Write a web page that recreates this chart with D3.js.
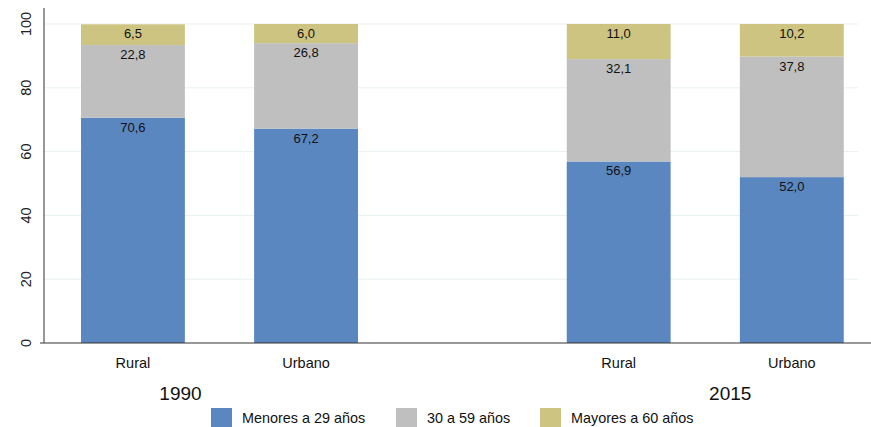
<!DOCTYPE html>
<html>
<head>
<meta charset="utf-8">
<script src="https://cdn.jsdelivr.net/npm/d3@7"></script>
<style>
  body { margin: 0; background: #fff; }
  svg { font-family: "Liberation Sans", Arial, sans-serif; }
</style>
</head>
<body>
<div id="chart"></div>
<script>
// data
var years = ["1990", "2015"];
var areas = ["Rural", "Urbano"];
var groups = ["Menores a 29 años", "30 a 59 años", "Mayores a 60 años"];
var young = [70.6, 67.2, 56.9, 52.0];   // 1990 Rural, 1990 Urbano, 2015 Rural, 2015 Urbano
var middle = [22.8, 26.8, 32.1, 37.8];
var old = [6.5, 6.0, 11.0, 10.2];
var yTicks = [0, 20, 40, 60, 80, 100];

var colors = ["#5b87c1", "#bfbfbf", "#ccc480"];

var drawChart = () => {
    var width = 871, height = 427;
    var plotLeft = 44, plotRight = 858, plotTop = 24, plotBottom = 343;

    var svg = d3.select("#chart").append("svg")
        .attr("width", width)
        .attr("height", height);

    var y = d3.scaleLinear().domain([0, 100]).range([plotBottom, plotTop]);
    var x0 = d3.scalePoint().domain(years).range([219.5, 705.25]);
    var x1 = d3.scaleBand().domain(areas).range([-138.5, 138.5]).paddingInner(0.4);

    // rows for the stack
    var rows = [];
    years.forEach(function(yr, j) {
        areas.forEach(function(a, i) {
            var k = j * 2 + i;
            rows.push({ year: yr, area: a, v0: young[k], v1: middle[k], v2: old[k] });
        });
    });

    var series = d3.stack().keys(["v0", "v1", "v2"])(rows);

    // gridlines
    svg.append("g").selectAll("line")
        .data(yTicks.filter(function(d) { return d > 0; }))
        .enter().append("line")
        .attr("x1", plotLeft).attr("x2", plotRight)
        .attr("y1", function(d) { return y(d); })
        .attr("y2", function(d) { return y(d); })
        .attr("stroke", "#e8f0f1")
        .attr("stroke-width", 1);

    // bars
    var bx = function(d) { return x0(d.data.year) + x1(d.data.area); };
    series.forEach(function(s, si) {
        var g = svg.append("g");
        g.selectAll("rect")
            .data(s)
            .enter().append("rect")
            .attr("x", bx)
            .attr("width", x1.bandwidth())
            .attr("y", function(d) { return y(d[1]); })
            .attr("height", function(d) { return y(d[0]) - y(d[1]); })
            .attr("fill", colors[si]);
        g.selectAll("text")
            .data(s)
            .enter().append("text")
            .attr("x", function(d) { return bx(d) + x1.bandwidth() / 2; })
            .attr("y", function(d) { return y(d[1]) + 14; })
            .attr("text-anchor", "middle")
            .attr("font-size", 13)
            .attr("fill", "#111")
            .text(function(d) { return (d[1] - d[0]).toFixed(1).replace(".", ","); });
    });

    // y axis
    svg.append("line")
        .attr("x1", plotLeft).attr("x2", plotLeft)
        .attr("y1", 8).attr("y2", plotBottom)
        .attr("stroke", "#333");
    svg.append("g").selectAll("text")
        .data(yTicks)
        .enter().append("text")
        .attr("transform", function(d) { return "translate(31," + y(d) + ") rotate(-90)"; })
        .attr("text-anchor", "middle")
        .attr("font-size", 14.5)
        .attr("fill", "#222")
        .text(function(d) { return d; });

    // x axis
    svg.append("line")
        .attr("x1", 40).attr("x2", 871)
        .attr("y1", plotBottom).attr("y2", plotBottom)
        .attr("stroke", "#333");

    svg.append("g").selectAll("text")
        .data(rows)
        .enter().append("text")
        .attr("x", function(d) { return x0(d.year) + x1(d.area) + x1.bandwidth() / 2; })
        .attr("y", 368)
        .attr("text-anchor", "middle")
        .attr("font-size", 14.5)
        .attr("fill", "#111")
        .text(function(d) { return d.area; });

    svg.append("g").selectAll("text")
        .data(years)
        .enter().append("text")
        .attr("x", function(d, i) { return x0(d) + (i === 0 ? -39 : 25); })
        .attr("y", 400)
        .attr("text-anchor", "middle")
        .attr("font-size", 19)
        .attr("fill", "#111")
        .text(function(d) { return d; });

    // legend
    var legX = [211, 396, 540];
    var leg = svg.append("g").selectAll("g")
        .data(groups)
        .enter().append("g")
        .attr("transform", function(d, i) { return "translate(" + legX[i] + ",408)"; });
    leg.append("rect")
        .attr("width", 21).attr("height", 20)
        .attr("fill", function(d, i) { return colors[i]; });
    leg.append("text")
        .attr("x", 31).attr("y", 15)
        .attr("font-size", 14.4)
        .attr("fill", "#111")
        .text(function(d) { return d; });
};

drawChart();
</script>
</body>
</html>
